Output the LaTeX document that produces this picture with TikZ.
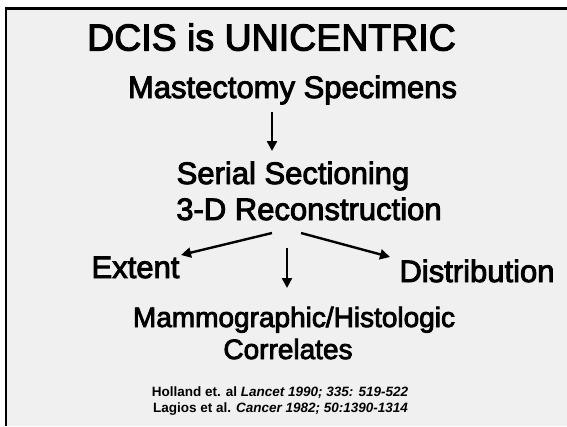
\documentclass[tikz,border=0pt]{standalone}
\usepackage{fontspec}
\setmainfont{Liberation Sans}
\newfontfamily\heavyfont{Liberation Sans}[FakeBold=3]
\usetikzlibrary{arrows.meta}
\definecolor{slidebg}{HTML}{F0F0F0}
\tikzset{
  lbl/.style={anchor=base, inner sep=0pt, text=black},
  big/.style={lbl, font=\heavyfont\fontsize{31}{36}\selectfont},
  ttl/.style={lbl, font=\heavyfont\fontsize{37.5}{42}\selectfont},
  midtxt/.style={lbl, font=\heavyfont\fontsize{28}{32}\selectfont},
  ref/.style={lbl, font=\bfseries\fontsize{13.5}{16}\selectfont},
  arr/.style={line width=2.4pt, -{Triangle[length=10pt,width=10pt]}},
}
\begin{document}
\begin{tikzpicture}[x=1pt,y=-1pt]
\useasboundingbox (0,0) rectangle (567,426);
\fill[white] (0,0) rectangle (567,426);
\fill[slidebg] (5,7.2) rectangle (567,426);
\draw[line width=2.4pt] (6.2,426) -- (6.2,8.3) -- (567,8.3);

\node[ttl] (title) at (271.5,50.5) {DCIS is UNICENTRIC};
\node[big] (mast) at (292.5,98) {Mastectomy Specimens};
\node[big] (serial) at (293,184) {Serial Sectioning};
\node[big] (recon) at (309,220) {3-D Reconstruction};
\node[big] (extent) at (135.5,278) {Extent};
\node[big] (distr) at (477,282) {Distribution};
\node[midtxt] (mammo) at (294,327) {Mammographic/Histologic};
\node[midtxt] (corr) at (288,359) {Correlates};
\node[ref] (ref1) at (280,396) {Holland et. al \textit{Lancet 1990; 335: 519-522}};
\node[ref] (ref2) at (280.5,412) {Lagios et al. \textit{Cancer 1982; 50:1390-1314}};

\coordinate (m1) at (272,112);
\coordinate (m2) at (272,151);
\coordinate (r1) at (272,233);
\coordinate (r2) at (181,255);
\coordinate (r3) at (301,233);
\coordinate (r4) at (390,257);
\coordinate (v1) at (287,248);
\coordinate (v2) at (287,288);
\draw[arr] (m1) -- (m2);
\draw[arr] (r1) -- (r2);
\draw[arr] (r3) -- (r4);
\draw[arr] (v1) -- (v2);
\end{tikzpicture}
\end{document}
